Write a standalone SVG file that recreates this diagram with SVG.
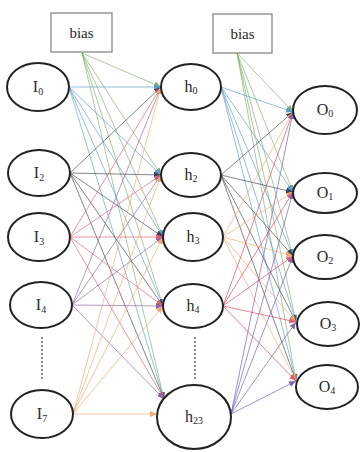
<svg xmlns="http://www.w3.org/2000/svg" width="361" height="452" viewBox="0 0 361 452">
<defs>
<style>
.n{fill:#fff;stroke:#222;stroke-width:2}
.b{fill:#fff;stroke:#888;stroke-width:1.3}
.t{font-family:"Liberation Serif","DejaVu Serif",serif;font-size:16px;fill:#2a2a2a;text-anchor:middle}
.bt{font-size:15px}
.s{font-size:10px}
.e{stroke-width:1;fill:none;stroke-opacity:0.65}
.g{stroke:#7fae6a;marker-end:url(#mg)}
.bl{stroke:#5a9cc8;marker-end:url(#mbl)}
.k{stroke:#3a4450;marker-end:url(#mk)}
.r{stroke:#e2606e;marker-end:url(#mr)}
.p{stroke:#8a64a8;marker-end:url(#mp)}
.o{stroke:#f2a870;marker-end:url(#mo)}
.rr{stroke:#e0404e;marker-end:url(#mr)}
.pp{stroke:#6a58b8;marker-end:url(#mp)}
.d{stroke:#666;stroke-width:1.5;stroke-dasharray:2 2;fill:none}
</style>
<marker id="mg" markerWidth="7" markerHeight="6" refX="7" refY="3" orient="auto" markerUnits="userSpaceOnUse"><path d="M0,0L7,3L0,6z" fill="#7fae6a"/></marker>
<marker id="mbl" markerWidth="7" markerHeight="6" refX="7" refY="3" orient="auto" markerUnits="userSpaceOnUse"><path d="M0,0L7,3L0,6z" fill="#5a9cc8"/></marker>
<marker id="mk" markerWidth="7" markerHeight="6" refX="7" refY="3" orient="auto" markerUnits="userSpaceOnUse"><path d="M0,0L7,3L0,6z" fill="#3a4450"/></marker>
<marker id="mr" markerWidth="7" markerHeight="6" refX="7" refY="3" orient="auto" markerUnits="userSpaceOnUse"><path d="M0,0L7,3L0,6z" fill="#e2606e"/></marker>
<marker id="mp" markerWidth="7" markerHeight="6" refX="7" refY="3" orient="auto" markerUnits="userSpaceOnUse"><path d="M0,0L7,3L0,6z" fill="#8a64a8"/></marker>
<marker id="mo" markerWidth="7" markerHeight="6" refX="7" refY="3" orient="auto" markerUnits="userSpaceOnUse"><path d="M0,0L7,3L0,6z" fill="#f2a870"/></marker>
</defs>
<rect width="361" height="452" fill="#fff"/>
<g id="connectors">
<g class="e g">
<line x1="82" y1="53" x2="161" y2="87"/><line x1="82" y1="53" x2="161" y2="175"/><line x1="82" y1="53" x2="163" y2="237"/><line x1="82" y1="53" x2="163" y2="306"/><line x1="82" y1="53" x2="164" y2="399"/>
</g>
<g class="e bl">
<line x1="69" y1="87" x2="161" y2="87"/><line x1="69" y1="87" x2="161" y2="175"/><line x1="69" y1="87" x2="163" y2="237"/><line x1="69" y1="87" x2="163" y2="306"/><line x1="69" y1="87" x2="164" y2="399"/>
</g>
<g class="e k">
<line x1="70" y1="173" x2="161" y2="87"/><line x1="70" y1="173" x2="161" y2="175"/><line x1="70" y1="173" x2="163" y2="237"/><line x1="70" y1="173" x2="163" y2="306"/><line x1="70" y1="173" x2="164" y2="399"/>
</g>
<g class="e r">
<line x1="70" y1="237" x2="161" y2="87"/><line x1="70" y1="237" x2="161" y2="175"/><line x1="70" y1="237" x2="163" y2="237"/><line x1="70" y1="237" x2="163" y2="306"/><line x1="70" y1="237" x2="164" y2="399"/>
</g>
<g class="e p">
<line x1="72" y1="305" x2="161" y2="87"/><line x1="72" y1="305" x2="161" y2="175"/><line x1="72" y1="305" x2="163" y2="237"/><line x1="72" y1="305" x2="163" y2="306"/><line x1="72" y1="305" x2="164" y2="399"/>
</g>
<g class="e o">
<line x1="73" y1="414" x2="161" y2="87"/><line x1="73" y1="414" x2="161" y2="175"/><line x1="73" y1="414" x2="163" y2="237"/><line x1="73" y1="414" x2="163" y2="306"/><line x1="73" y1="414" x2="157" y2="414"/>
</g>
<g class="e g">
<line x1="237" y1="53" x2="293" y2="112"/><line x1="237" y1="53" x2="293" y2="192"/><line x1="237" y1="53" x2="293" y2="256"/><line x1="237" y1="53" x2="296" y2="322"/><line x1="237" y1="53" x2="296" y2="381"/>
</g>
<g class="e bl">
<line x1="221" y1="87" x2="293" y2="112"/><line x1="221" y1="87" x2="293" y2="192"/><line x1="221" y1="87" x2="293" y2="256"/><line x1="221" y1="87" x2="296" y2="322"/><line x1="221" y1="87" x2="296" y2="381"/>
</g>
<g class="e k">
<line x1="221" y1="175" x2="293" y2="112"/><line x1="221" y1="175" x2="293" y2="192"/><line x1="221" y1="175" x2="293" y2="256"/><line x1="221" y1="175" x2="296" y2="322"/><line x1="221" y1="175" x2="296" y2="381"/>
</g>
<g class="e o">
<line x1="223" y1="237" x2="293" y2="112"/><line x1="223" y1="237" x2="293" y2="192"/><line x1="223" y1="237" x2="293" y2="256"/><line x1="223" y1="237" x2="296" y2="322"/><line x1="223" y1="237" x2="296" y2="381"/>
</g>
<g class="e rr">
<line x1="223" y1="306" x2="293" y2="112"/><line x1="223" y1="306" x2="293" y2="192"/><line x1="223" y1="306" x2="293" y2="256"/><line x1="223" y1="306" x2="296" y2="322"/><line x1="223" y1="306" x2="296" y2="381"/>
</g>
<g class="e pp">
<line x1="231" y1="414" x2="293" y2="112"/><line x1="231" y1="414" x2="293" y2="192"/><line x1="231" y1="414" x2="293" y2="256"/><line x1="231" y1="414" x2="296" y2="322"/><line x1="231" y1="414" x2="296" y2="381"/>
</g>
<line class="d" x1="42" y1="337" x2="42" y2="381"/>
<line class="d" x1="195" y1="337" x2="195" y2="381"/>
</g>
<g id="bias1"><rect class="b" x="51" y="13" width="61" height="39"/><text class="t bt" x="81.5" y="38">bias</text></g>
<g id="bias2"><rect class="b" x="213" y="14" width="59" height="39"/><text class="t bt" x="242.5" y="39">bias</text></g>
<g id="I0"><ellipse class="n" cx="38" cy="87" rx="31" ry="24"/><text class="t" x="38" y="92">I<tspan class="s" dy="3">0</tspan></text></g>
<g id="I2"><ellipse class="n" cx="39" cy="173" rx="31" ry="23"/><text class="t" x="39" y="178">I<tspan class="s" dy="3">2</tspan></text></g>
<g id="I3"><ellipse class="n" cx="39" cy="237" rx="31" ry="24"/><text class="t" x="39" y="242">I<tspan class="s" dy="3">3</tspan></text></g>
<g id="I4"><ellipse class="n" cx="41" cy="305" rx="31" ry="23"/><text class="t" x="41" y="310">I<tspan class="s" dy="3">4</tspan></text></g>
<g id="I7"><ellipse class="n" cx="42" cy="414" rx="31" ry="24"/><text class="t" x="42" y="419">I<tspan class="s" dy="3">7</tspan></text></g>
<g id="h0"><ellipse class="n" cx="191" cy="87" rx="30" ry="23"/><text class="t" x="191" y="92">h<tspan class="s" dy="2">0</tspan></text></g>
<g id="h2"><ellipse class="n" cx="191" cy="175" rx="30" ry="22"/><text class="t" x="191" y="180">h<tspan class="s" dy="2">2</tspan></text></g>
<g id="h3"><ellipse class="n" cx="193" cy="237" rx="30" ry="24"/><text class="t" x="193" y="242">h<tspan class="s" dy="2">3</tspan></text></g>
<g id="h4"><ellipse class="n" cx="193" cy="306" rx="30" ry="22"/><text class="t" x="193" y="311">h<tspan class="s" dy="2">4</tspan></text></g>
<g id="h23"><ellipse class="n" cx="194" cy="417" rx="37" ry="32"/><text class="t" x="194" y="422">h<tspan class="s" dy="2">23</tspan></text></g>
<g id="O0"><ellipse class="n" cx="325" cy="110" rx="32" ry="24"/><text class="t" x="325" y="115">O<tspan class="s" dy="2">0</tspan></text></g>
<g id="O1"><ellipse class="n" cx="325" cy="193" rx="32" ry="20"/><text class="t" x="325" y="198">O<tspan class="s" dy="2">1</tspan></text></g>
<g id="O2"><ellipse class="n" cx="325" cy="257" rx="32" ry="22"/><text class="t" x="325" y="262">O<tspan class="s" dy="2">2</tspan></text></g>
<g id="O3"><ellipse class="n" cx="328" cy="324" rx="31" ry="22"/><text class="t" x="328" y="329">O<tspan class="s" dy="2">3</tspan></text></g>
<g id="O4"><ellipse class="n" cx="327" cy="387" rx="31" ry="22"/><text class="t" x="327" y="392">O<tspan class="s" dy="2">4</tspan></text></g>
</svg>
